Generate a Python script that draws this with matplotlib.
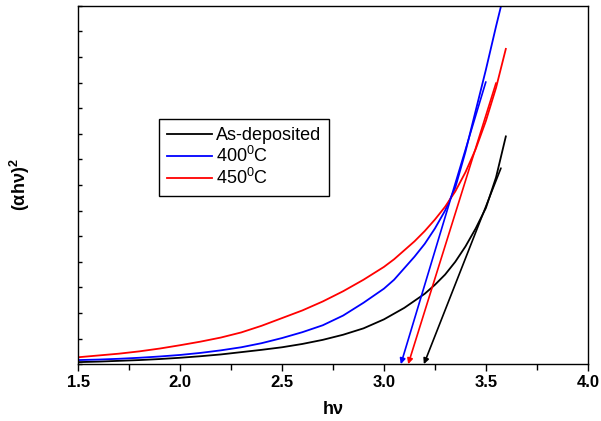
from matplotlib import pyplot as plt
from matplotlib.ticker import MultipleLocator, NullFormatter

plt.rcParams['font.family'] = ['Liberation Sans', 'DejaVu Sans']
plt.rcParams['mathtext.fontset'] = 'custom'
plt.rcParams['mathtext.rm'] = 'Liberation Sans'
plt.rcParams['mathtext.it'] = 'Liberation Sans:italic'
plt.rcParams['mathtext.bf'] = 'Liberation Sans:bold'

# (alpha h nu)^2 curves
hv_asdep = [1.5, 1.6, 1.7, 1.8, 1.9, 2.0, 2.1, 2.2, 2.3, 2.4, 2.5, 2.6, 2.7, 2.8,
            2.9, 3.0, 3.1, 3.2, 3.25, 3.3, 3.35, 3.4, 3.45, 3.5, 3.55, 3.598]
y_asdep = [0.08, 0.10, 0.13, 0.16, 0.20, 0.25, 0.31, 0.38, 0.47, 0.56, 0.66, 0.79,
           0.95, 1.15, 1.4, 1.75, 2.2, 2.75, 3.1, 3.5, 4.0, 4.6, 5.3, 6.1, 7.3, 8.9]

hv_400 = [1.5, 1.6, 1.7, 1.8, 1.9, 2.0, 2.1, 2.2, 2.3, 2.4, 2.5, 2.6, 2.7, 2.8,
          2.9, 3.0, 3.05, 3.1, 3.15, 3.2, 3.25, 3.3, 3.35, 3.4, 3.45, 3.5, 3.55, 3.59]
y_400 = [0.16, 0.18, 0.21, 0.25, 0.30, 0.36, 0.44, 0.54, 0.66, 0.82, 1.02, 1.25,
         1.52, 1.9, 2.4, 2.95, 3.3, 3.75, 4.2, 4.7, 5.3, 6.0, 6.9, 8.3, 9.9, 11.5,
         13.2, 14.5]

hv_450 = [1.5, 1.6, 1.7, 1.8, 1.9, 2.0, 2.1, 2.2, 2.3, 2.4, 2.5, 2.6, 2.7, 2.8,
          2.9, 3.0, 3.05, 3.1, 3.15, 3.2, 3.25, 3.3, 3.35, 3.4, 3.45, 3.5, 3.55, 3.598]
y_450 = [0.27, 0.34, 0.41, 0.50, 0.61, 0.74, 0.88, 1.04, 1.24, 1.5, 1.8, 2.1,
         2.45, 2.85, 3.3, 3.8, 4.1, 4.45, 4.8, 5.2, 5.65, 6.15, 6.75, 7.5, 8.4,
         9.5, 10.8, 12.32]

labels = ['As-deposited', '400$^0$C', '450$^0$C']
colors = ['black', 'blue', 'red']

# linear fits: band gap intercept and upper end of each fit line
eg = [3.196, 3.083, 3.119]
fit_top_x = [3.574, 3.5, 3.55]
fit_top_y = [7.66, 11.03, 10.99]

fig = plt.figure(figsize=(6.01, 4.21), dpi=100)
ax = fig.add_axes([0.13, 0.135, 0.848, 0.851])

series = [(hv_asdep, y_asdep), (hv_400, y_400), (hv_450, y_450)]
for (x, y), lab, c in zip(series, labels, colors):
    ax.plot(x, y, color=c, lw=1.3, label=lab)

for e, tx, ty, c in zip(eg, fit_top_x, fit_top_y, colors):
    ax.annotate('', xy=(e, 0), xytext=(tx, ty),
                arrowprops=dict(arrowstyle='-|>', color=c, lw=1.2,
                                mutation_scale=8, shrinkA=0, shrinkB=0))

ax.set_xlim(1.5, 4.0)
ax.set_ylim(0, 14)
ax.xaxis.set_major_locator(MultipleLocator(0.5))
ax.xaxis.set_minor_locator(MultipleLocator(0.25))
ax.yaxis.set_major_locator(MultipleLocator(1))
ax.yaxis.set_major_formatter(NullFormatter())
ax.tick_params(axis='x', which='major', direction='out', length=5, width=1,
               labelsize=12, pad=3)
ax.tick_params(axis='x', which='minor', direction='out', length=4, width=1)
ax.tick_params(axis='y', which='major', direction='in', length=3, width=1)
for lbl in ax.get_xticklabels():
    lbl.set_fontweight('bold')
for sp in ax.spines.values():
    sp.set_linewidth(1.0)

ax.set_xlabel('hν', fontsize=13, fontweight='bold', labelpad=8)
ax.set_ylabel('(αhν)$^{\\mathbf{2}}$', fontsize=13, fontweight='bold', labelpad=30)

leg = ax.legend(loc='upper left', bbox_to_anchor=(0.159, 0.684), fontsize=13,
                frameon=True, fancybox=False, edgecolor='black', framealpha=1,
                handlelength=2.5, handletextpad=0.2, borderpad=0.45,
                labelspacing=0.1, borderaxespad=0)
leg.get_frame().set_linewidth(1.0)

plt.savefig('out.png', dpi=100)
